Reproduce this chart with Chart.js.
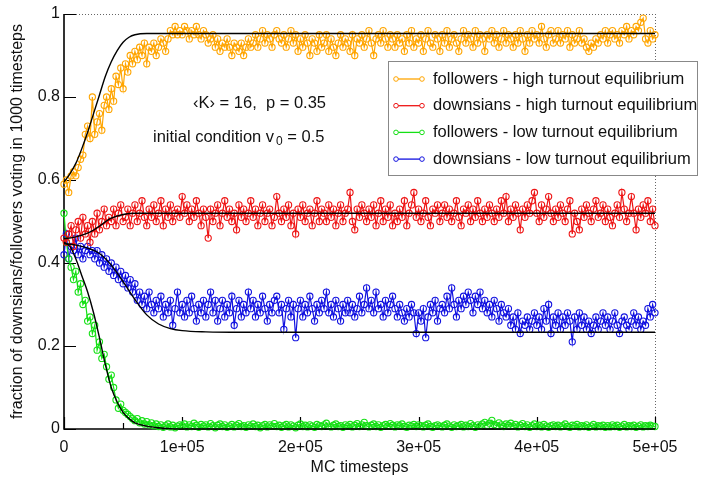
<!DOCTYPE html>
<html><head><meta charset="utf-8">
<script src="https://cdn.jsdelivr.net/npm/chart.js@4.4.0/dist/chart.umd.min.js"></script>
<style>html,body{margin:0;padding:0;background:#fff}canvas{display:block}</style>
</head><body>
<canvas id="c" width="707" height="483"></canvas>
<script>
// ---- data ----
const mcStep = 2000; // one sample every 2000 MC timesteps, 0 .. 500000

const seriesLabels = [
  'followers - high turnout equilibrium',
  'downsians - high turnout equilibrium',
  'followers - low turnout equilibrium',
  'downsians - low turnout equilibrium'
];
const seriesColors = ['#FFA500', '#EE1515', '#15E015', '#1212E0'];

const followersHigh = [
0.59,0.60,0.57,0.61,0.62,0.61,0.63,0.65,0.66,0.71,
0.73,0.70,0.80,0.71,0.74,0.76,0.72,0.78,0.80,0.77,
0.82,0.79,0.85,0.83,0.87,0.82,0.88,0.86,0.90,0.88,
0.91,0.89,0.92,0.90,0.93,0.88,0.92,0.91,0.93,0.90,
0.92,0.94,0.93,0.91,0.94,0.96,0.95,0.97,0.95,0.96,
0.95,0.97,0.96,0.94,0.96,0.95,0.97,0.95,0.94,0.96,
0.95,0.93,0.94,0.95,0.92,0.94,0.91,0.93,0.92,0.94,
0.92,0.90,0.93,0.92,0.91,0.93,0.90,0.92,0.94,0.92,
0.93,0.95,0.92,0.94,0.96,0.93,0.95,0.94,0.92,0.95,
0.96,0.94,0.93,0.95,0.92,0.94,0.96,0.93,0.95,0.91,
0.94,0.92,0.95,0.93,0.90,0.94,0.93,0.91,0.95,0.92,
0.93,0.95,0.91,0.94,0.92,0.90,0.93,0.95,0.92,0.94,
0.93,0.91,0.95,0.90,0.94,0.93,0.95,0.92,0.94,0.96,
0.93,0.90,0.94,0.95,0.93,0.96,0.94,0.92,0.95,0.94,
0.92,0.95,0.93,0.94,0.91,0.95,0.93,0.96,0.92,0.94,
0.93,0.95,0.91,0.94,0.96,0.93,0.92,0.95,0.94,0.91,
0.95,0.93,0.96,0.92,0.94,0.95,0.93,0.91,0.94,0.96,
0.93,0.95,0.94,0.92,0.96,0.93,0.95,0.94,0.91,0.95,
0.94,0.96,0.93,0.95,0.92,0.94,0.96,0.93,0.95,0.94,
0.92,0.95,0.93,0.96,0.94,0.91,0.95,0.93,0.96,0.94,
0.95,0.93,0.97,0.94,0.92,0.95,0.96,0.93,0.94,0.96,
0.93,0.95,0.94,0.96,0.92,0.95,0.93,0.94,0.96,0.93,
0.94,0.92,0.91,0.93,0.92,0.94,0.93,0.95,0.94,0.96,
0.93,0.95,0.96,0.94,0.95,0.93,0.96,0.95,0.97,0.94,
0.96,0.95,0.97,0.96,0.98,0.99,0.94,0.93,0.96,0.94,
0.95];

const downsiansHigh = [
0.46,0.45,0.47,0.49,0.44,0.48,0.50,0.46,0.51,0.47,
0.49,0.45,0.50,0.47,0.52,0.48,0.50,0.53,0.49,0.51,
0.50,0.53,0.49,0.52,0.54,0.50,0.51,0.53,0.49,0.52,
0.54,0.50,0.52,0.55,0.51,0.49,0.53,0.51,0.54,0.50,
0.52,0.55,0.49,0.53,0.51,0.54,0.50,0.52,0.53,0.51,
0.56,0.52,0.54,0.50,0.53,0.51,0.55,0.52,0.49,0.53,
0.51,0.46,0.53,0.50,0.52,0.54,0.49,0.52,0.55,0.51,
0.53,0.50,0.52,0.48,0.54,0.51,0.53,0.50,0.52,0.55,
0.51,0.53,0.49,0.52,0.54,0.50,0.52,0.53,0.49,0.51,
0.56,0.52,0.50,0.53,0.51,0.54,0.49,0.52,0.47,0.53,
0.51,0.54,0.50,0.52,0.53,0.49,0.52,0.55,0.50,0.53,
0.52,0.50,0.54,0.51,0.53,0.49,0.52,0.54,0.50,0.52,
0.53,0.57,0.50,0.48,0.53,0.51,0.54,0.52,0.50,0.53,
0.51,0.54,0.49,0.52,0.55,0.50,0.53,0.51,0.54,0.49,
0.52,0.50,0.53,0.51,0.55,0.49,0.52,0.54,0.57,0.51,
0.53,0.50,0.52,0.55,0.51,0.49,0.53,0.52,0.54,0.50,
0.52,0.54,0.51,0.53,0.50,0.52,0.55,0.51,0.49,0.53,
0.52,0.54,0.50,0.53,0.51,0.55,0.52,0.50,0.53,0.51,
0.54,0.52,0.50,0.53,0.51,0.55,0.52,0.56,0.50,0.53,
0.51,0.54,0.52,0.48,0.53,0.51,0.54,0.52,0.55,0.57,
0.52,0.50,0.54,0.51,0.53,0.56,0.52,0.50,0.53,0.51,
0.54,0.52,0.50,0.53,0.55,0.47,0.52,0.50,0.48,0.53,
0.51,0.54,0.52,0.50,0.53,0.55,0.51,0.52,0.54,0.50,
0.53,0.51,0.49,0.52,0.54,0.51,0.57,0.53,0.50,0.52,
0.56,0.52,0.48,0.53,0.51,0.54,0.52,0.55,0.50,0.53,
0.49];

const followersLow = [
0.52,0.45,0.41,0.39,0.36,0.38,0.33,0.35,0.30,0.31,
0.26,0.27,0.23,0.25,0.19,0.21,0.17,0.18,0.15,0.12,
0.13,0.10,0.07,0.05,0.06,0.045,0.04,0.035,0.03,0.025,
0.02,0.025,0.015,0.02,0.012,0.018,0.01,0.015,0.008,0.012,
0.006,0.01,0.004,0.008,0.012,0.005,0.009,0.003,0.007,0.01,
0.008,0.012,0.005,0.01,0.006,0.014,0.009,0.004,0.011,0.007,
0.01,0.005,0.013,0.008,0.003,0.009,0.012,0.006,0.01,0.004,
0.007,0.011,0.005,0.009,0.013,0.006,0.008,0.004,0.01,0.007,
0.012,0.006,0.009,0.003,0.008,0.011,0.005,0.01,0.007,0.013,
0.006,0.009,0.004,0.008,0.011,0.005,0.01,0.007,0.003,0.009,
0.012,0.006,0.009,0.005,0.01,0.007,0.004,0.011,0.008,0.006,
0.01,0.014,0.007,0.005,0.009,0.012,0.006,0.008,0.004,0.01,
0.007,0.011,0.005,0.009,0.013,0.006,0.01,0.016,0.008,0.005,
0.009,0.012,0.006,0.01,0.004,0.008,0.011,0.007,0.013,0.009,
0.005,0.01,0.008,0.012,0.006,0.004,0.009,0.007,0.011,0.006,
0.01,0.008,0.005,0.009,0.012,0.006,0.004,0.008,0.01,0.007,
0.005,0.009,0.012,0.007,0.004,0.01,0.006,0.008,0.011,0.005,
0.009,0.006,0.013,0.008,0.004,0.01,0.007,0.012,0.016,0.009,
0.014,0.021,0.011,0.008,0.015,0.01,0.006,0.012,0.009,0.014,
0.007,0.011,0.005,0.009,0.013,0.006,0.01,0.004,0.008,0.012,
0.006,0.009,0.005,0.011,0.007,0.004,0.008,0.01,0.006,0.009,
0.005,0.008,0.012,0.006,0.004,0.009,0.007,0.011,0.005,0.008,
0.006,0.01,0.004,0.007,0.011,0.005,0.008,0.006,0.009,0.004,
0.008,0.005,0.01,0.006,0.009,0.004,0.007,0.011,0.005,0.008,
0.006,0.009,0.004,0.007,0.01,0.005,0.008,0.006,0.009,0.007,
0.006];

const downsiansLow = [
0.42,0.47,0.41,0.44,0.43,0.46,0.42,0.44,0.41,0.43,
0.44,0.42,0.43,0.41,0.43,0.40,0.42,0.39,0.41,0.38,
0.40,0.37,0.39,0.36,0.38,0.35,0.37,0.34,0.36,0.33,
0.35,0.31,0.33,0.30,0.32,0.29,0.33,0.30,0.28,0.31,
0.29,0.32,0.27,0.30,0.28,0.31,0.25,0.29,0.33,0.28,
0.30,0.27,0.31,0.28,0.32,0.29,0.26,0.30,0.28,0.31,
0.27,0.30,0.33,0.28,0.31,0.26,0.29,0.31,0.27,0.30,
0.28,0.32,0.25,0.29,0.31,0.27,0.30,0.28,0.33,0.29,
0.31,0.27,0.30,0.28,0.32,0.29,0.26,0.30,0.28,0.31,
0.32,0.28,0.30,0.24,0.29,0.31,0.27,0.30,0.22,0.29,
0.31,0.27,0.30,0.28,0.32,0.29,0.26,0.30,0.28,0.31,
0.29,0.33,0.28,0.30,0.27,0.31,0.29,0.26,0.30,0.28,
0.31,0.28,0.30,0.27,0.29,0.32,0.28,0.30,0.34,0.29,
0.31,0.28,0.33,0.29,0.30,0.27,0.31,0.28,0.30,0.32,
0.29,0.27,0.30,0.28,0.26,0.29,0.27,0.30,0.28,0.23,
0.28,0.26,0.29,0.22,0.27,0.30,0.28,0.31,0.26,0.29,
0.30,0.28,0.32,0.29,0.34,0.30,0.27,0.31,0.29,0.32,
0.30,0.33,0.31,0.28,0.32,0.30,0.33,0.29,0.31,0.28,
0.30,0.27,0.31,0.29,0.26,0.30,0.28,0.27,0.29,0.25,
0.27,0.24,0.28,0.23,0.26,0.25,0.27,0.24,0.26,0.28,
0.25,0.27,0.24,0.29,0.26,0.30,0.23,0.27,0.25,0.28,
0.24,0.27,0.25,0.28,0.26,0.21,0.27,0.24,0.28,0.25,
0.27,0.24,0.26,0.23,0.25,0.27,0.24,0.26,0.28,0.25,
0.27,0.24,0.26,0.28,0.25,0.23,0.26,0.27,0.25,0.24,
0.26,0.28,0.25,0.27,0.24,0.26,0.25,0.29,0.27,0.30,
0.28];

// theory (black) curves: sample points
const theoryFollowersHighX = [0,5000,10000,15000,20000,25000,30000,35000,40000,45000,50000,55000,60000,70000,80000,500000];
const theoryFollowersHighY = [0.595,0.615,0.64,0.675,0.715,0.76,0.805,0.85,0.885,0.912,0.932,0.944,0.95,0.953,0.953,0.953];
const theoryDownsiansHighX = [0,10000,20000,25000,30000,40000,50000,60000,70000,500000];
const theoryDownsiansHighY = [0.458,0.463,0.472,0.479,0.489,0.508,0.517,0.52,0.52,0.52];
const theoryFollowersLowX = [0,5000,10000,15000,20000,25000,30000,35000,40000,45000,50000,55000,60000,70000,80000,90000,100000,500000];
const theoryFollowersLowY = [0.45,0.44,0.41,0.37,0.33,0.28,0.22,0.155,0.10,0.065,0.04,0.025,0.015,0.007,0.003,0.001,0,0];
const theoryDownsiansLowX = [0,10000,20000,30000,40000,50000,60000,70000,80000,90000,100000,120000,150000,500000];
const theoryDownsiansLowY = [0.447,0.443,0.436,0.423,0.395,0.355,0.312,0.275,0.253,0.242,0.237,0.234,0.233,0.233];

const xTickValues = [0,100000,200000,300000,400000,500000];
const xTickLabels = ['0','1e+05','2e+05','3e+05','4e+05','5e+05'];
const xMinorTicks = [50000,150000,250000,350000,450000];
const yTickLabels = ['0','0.2','0.4','0.6','0.8','1'];

// ---- build ----
const FONT = "'Liberation Sans', Arial, sans-serif";
const toXY = arr => arr.map((v, i) => ({x: i * mcStep, y: v}));
const pairXY = (xs, ys) => xs.map((x, i) => ({x, y: ys[i]}));

const simSeries = [followersHigh, downsiansHigh, followersLow, downsiansLow];
const theory = [
  pairXY(theoryFollowersHighX, theoryFollowersHighY),
  pairXY(theoryDownsiansHighX, theoryDownsiansHighY),
  pairXY(theoryFollowersLowX, theoryFollowersLowY),
  pairXY(theoryDownsiansLowX, theoryDownsiansLowY)
];

const datasets = [];
theory.forEach((d, i) => datasets.push({
  label: 'theory ' + i, data: d, isTheory: true,
  borderColor: '#000', borderWidth: 1.4, pointRadius: 0,
  cubicInterpolationMode: 'monotone', order: 0, clip: false
}));
simSeries.forEach((s, i) => datasets.push({
  label: seriesLabels[i], data: toXY(s), isTheory: false,
  borderColor: seriesColors[i], borderWidth: 1.2,
  pointRadius: 3.1, pointBorderWidth: 1.1, pointBackgroundColor: 'rgba(255,255,255,0)',
  pointBorderColor: seriesColors[i], order: 1 + i, clip: false
}));

const decor = {
  id: 'decor',
  beforeDatasetsDraw(chart) {
    const {ctx, chartArea: a, scales: {x, y}} = chart;
    ctx.save();
    // dotted top / right frame
    ctx.strokeStyle = '#666'; ctx.lineWidth = 1; ctx.setLineDash([1, 2]);
    ctx.beginPath();
    ctx.moveTo(a.left, a.top + 0.5); ctx.lineTo(a.right, a.top + 0.5);
    ctx.moveTo(a.right + 0.5, a.top); ctx.lineTo(a.right + 0.5, a.bottom);
    ctx.stroke();
    ctx.setLineDash([]);
    // solid left / bottom axes
    ctx.strokeStyle = '#000'; ctx.lineWidth = 1.6;
    ctx.beginPath();
    ctx.moveTo(a.left, a.top); ctx.lineTo(a.left, a.bottom);
    ctx.lineTo(a.right + 1, a.bottom);
    ctx.stroke();
    // inward tick marks
    ctx.lineWidth = 1.2;
    ctx.beginPath();
    x.ticks.forEach(t => { const p = Math.round(x.getPixelForValue(t.value)) + 0.5; ctx.moveTo(p, a.bottom); ctx.lineTo(p, a.bottom - 12); });
    xMinorTicks.forEach(v => { const p = Math.round(x.getPixelForValue(v)) + 0.5; ctx.moveTo(p, a.bottom); ctx.lineTo(p, a.bottom - 6); });
    y.ticks.forEach(t => { const p = Math.round(y.getPixelForValue(t.value)) + 0.5; ctx.moveTo(a.left, p); ctx.lineTo(a.left + 12, p); });
    ctx.stroke();
    ctx.restore();
  },
  afterDraw(chart) {
    const {ctx} = chart;
    ctx.save();
    ctx.fillStyle = '#111';
    ctx.textBaseline = 'middle';
    ctx.textAlign = 'left';
    ctx.font = '16.5px ' + FONT;
    ctx.fillText('\u2039K\u203A = 16,  p = 0.35', 193, 103);
    let tx = 153;
    const t1 = 'initial condition v';
    ctx.fillText(t1, tx, 137);
    tx += ctx.measureText(t1).width + 2;
    ctx.font = '12px ' + FONT;
    ctx.fillText('0', tx, 142);
    tx += ctx.measureText('0').width;
    ctx.font = '16.5px ' + FONT;
    ctx.fillText(' = 0.5', tx, 137);

    // legend
    const bx = 388.5, by = 61.5, bw = 309, bh = 114;
    ctx.fillStyle = '#fff';
    ctx.fillRect(bx, by, bw, bh);
    ctx.strokeStyle = '#888'; ctx.lineWidth = 1;
    ctx.strokeRect(bx, by, bw, bh);
    const sims = chart.data.datasets.filter(d => !d.isTheory);
    sims.forEach((d, i) => {
      const ly = 79 + i * 26.7;
      ctx.strokeStyle = d.borderColor; ctx.lineWidth = 1.3;
      ctx.beginPath(); ctx.moveTo(396, ly); ctx.lineTo(422, ly); ctx.stroke();
      ctx.lineWidth = 1;
      [396, 422].forEach(cx => { ctx.beginPath(); ctx.arc(cx, ly, 2.3, 0, Math.PI * 2); ctx.fillStyle = '#fff'; ctx.fill(); ctx.stroke(); });
      ctx.fillStyle = '#111';
      ctx.font = '16.5px ' + FONT;
      ctx.fillText(d.label, 433, ly);
    });
    ctx.restore();
  }
};

new Chart(document.getElementById('c'), {
  type: 'line',
  data: {datasets},
  options: {
    responsive: false, animation: false, devicePixelRatio: 1,
    layout: {padding: {left: 0, top: 14, right: 52, bottom: 0}},
    plugins: {legend: {display: false}, tooltip: {enabled: false}},
    elements: {line: {tension: 0}},
    scales: {
      x: {
        type: 'linear', min: 0, max: 500000,
        afterFit: s => { s.height = 54; },
        afterBuildTicks: s => { s.ticks = xTickValues.map(v => ({value: v})); },
        grid: {display: false, drawTicks: false}, border: {display: false},
        ticks: {padding: 9, color: '#111', font: {size: 16, family: FONT}, maxRotation: 0, autoSkip: false,
          callback: v => { const i = xTickValues.indexOf(v); return i >= 0 ? xTickLabels[i] : ''; }},
        title: {display: true, text: 'MC timesteps', color: '#111', font: {size: 16, family: FONT}, padding: {top: 0, bottom: 6}}
      },
      y: {
        type: 'linear', min: 0, max: 1,
        afterFit: s => { s.width = 64; },
        ticks: {stepSize: 0.2, padding: 4, color: '#111', font: {size: 16, family: FONT},
          callback: (v, i) => yTickLabels[i]},
        grid: {display: false, drawTicks: false}, border: {display: false},
        title: {display: true, text: 'fraction of downsians/followers voting in 1000 timesteps', color: '#111', font: {size: 16, family: FONT}, padding: {top: 8, bottom: 0}}
      }
    }
  },
  plugins: [decor]
});
</script>
</body></html>
